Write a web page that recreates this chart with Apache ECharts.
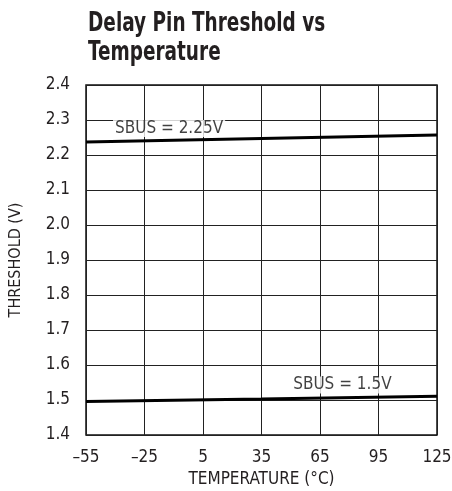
<!DOCTYPE html>
<html><head><meta charset="utf-8">
<script src="https://cdn.jsdelivr.net/npm/echarts@6/dist/echarts.min.js"></script>
<style>html,body{margin:0;padding:0;background:#fff}#c{width:452px;height:491px}</style>
</head><body><div id="c"></div>
<script>
var temps = [-55, 35, 125];
var sbus225 = [2.237, 2.247, 2.257];
var sbus15 = [1.496, 1.503, 1.511];
var labels = [
  {text: 'SBUS = 2.25V', t: -12.4, v: 2.276},
  {text: 'SBUS = 1.5V', t: 76.5, v: 1.543}
];
var titleLines = ['Delay Pin Threshold vs', 'Temperature'];
var X0 = -55;
var FONT = '"DejaVu Sans Condensed", "Liberation Sans Narrow", "Liberation Sans", sans-serif';
var INK = '#231f20';
function pts(vals){ return temps.map(function(t,i){ return [t - X0, vals[i]]; }); }
var chart = echarts.init(document.getElementById('c'));
chart.setOption({
  animation: false,
  graphic: [{
    type: 'text', x: 88, y: 10, scaleX: 0.79,
    style: {text: titleLines.join('\n'), font: 'bold 26px ' + FONT, lineHeight: 29, fill: INK, align: 'left', verticalAlign: 'top'}
  }],
  grid: {left: 86, right: 15, top: 85, bottom: 56, show: true, borderColor: '#111', borderWidth: 1.5, outerBoundsMode: 'none', containLabel: false},
  xAxis: {
    type: 'value', min: 0, max: 180, interval: 30,
    name: 'TEMPERATURE (°C)', nameLocation: 'middle', nameGap: 34,
    nameTextStyle: {fontFamily: FONT, fontSize: 17, color: INK},
    axisLine: {show: false}, axisTick: {show: false},
    axisLabel: {fontFamily: FONT, fontSize: 17, color: INK, margin: 14,
      formatter: function(v){ return String(v + X0).replace('-', '\u2013'); }},
    splitLine: {show: true, lineStyle: {color: '#222', width: 1}}
  },
  yAxis: {
    type: 'value', min: 1.4, max: 2.4, interval: 0.1,
    name: 'THRESHOLD (V)', nameLocation: 'middle', nameGap: 62, nameRotate: 90,
    nameTextStyle: {fontFamily: FONT, fontSize: 16, color: INK},
    axisLine: {show: false}, axisTick: {show: false},
    axisLabel: {fontFamily: FONT, fontSize: 17, color: INK, margin: 16,
      formatter: function(v){ return v.toFixed(1); }},
    splitLine: {show: true, lineStyle: {color: '#222', width: 1}}
  },
  series: [
    {type: 'line', data: pts(sbus225), symbol: 'none', lineStyle: {color: '#000', width: 3}, z: 3},
    {type: 'line', data: pts(sbus15), symbol: 'none', lineStyle: {color: '#000', width: 3}, z: 3},
    {type: 'scatter', symbolSize: 0, z: 5,
      data: labels.map(function(l){ return {value: [l.t - X0, l.v], name: l.text}; }),
      label: {show: true, position: 'inside', formatter: '{b}', fontFamily: FONT, fontSize: 17,
        color: '#111', backgroundColor: '#fff', padding: [0, 2]}}
  ]
});
</script></body></html>
